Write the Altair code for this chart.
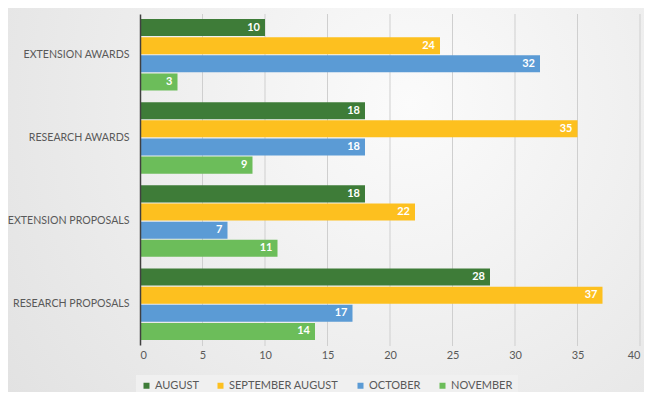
import altair as alt
import pandas as pd

categories = ["EXTENSION AWARDS", "RESEARCH AWARDS", "EXTENSION PROPOSALS", "RESEARCH PROPOSALS"]
series = ["AUGUST", "SEPTEMBER AUGUST", "OCTOBER", "NOVEMBER"]
august = [10, 18, 18, 28]
september_august = [24, 35, 22, 37]
october = [32, 18, 7, 17]
november = [3, 9, 11, 14]
colors = ["#3e7c38", "#fdc01f", "#5b9bd5", "#6cbd5a"]
x_ticks = [0, 5, 10, 15, 20, 25, 30, 35, 40]

rows = []
for s, vals in zip(series, [august, september_august, october, november]):
    for c, v in zip(categories, vals):
        rows.append({"category": c, "series": s, "value": v})
df = pd.DataFrame(rows)
ticks_df = pd.DataFrame({"tick": x_ticks[1:]})

FONT = "Lato"
GRAY = "#595959"

bg = alt.Chart(alt.Data(values=[{}])).mark_rect(
    fill={
        "gradient": "radial",
        "x1": 0.62, "y1": 0.35, "r1": 0.0,
        "x2": 0.62, "y2": 0.35, "r2": 0.75,
        "stops": [
            {"offset": 0, "color": "#fbfbfb"},
            {"offset": 1, "color": "#e2e2e2"},
        ],
    }
).encode(
    x=alt.value(-140), x2=alt.value(520), y=alt.value(-14), y2=alt.value(392)
)

grid = alt.Chart(ticks_df).mark_rule(color="#cfcfcf", strokeWidth=1).encode(
    x=alt.X("tick:Q", scale=alt.Scale(domain=[0, 40], nice=False)),
    y=alt.value(0),
    y2=alt.value(332),
)

y_enc = alt.Y(
    "category:N",
    sort=categories,
    title=None,
    scale=alt.Scale(paddingInner=0.14, paddingOuter=0.06),
    axis=alt.Axis(
        labelFont=FONT, labelFontSize=10.6, labelColor=GRAY, labelPadding=11,
        ticks=False, domainColor="#404040", domainWidth=1.5, grid=False,
        zindex=2, labelLimit=200,
    ),
)
yoff = alt.YOffset("series:N", sort=series, scale=alt.Scale(paddingInner=0.06))

bars = alt.Chart(df).mark_bar().encode(
    x=alt.X(
        "value:Q",
        title=None,
        scale=alt.Scale(domain=[0, 40], nice=False),
        axis=alt.Axis(
            values=x_ticks, labelFont=FONT, labelFontSize=11, labelColor=GRAY,
            domain=False, ticks=False, grid=False, labelPadding=4, zindex=2,
        ),
    ),
    y=y_enc,
    yOffset=yoff,
    color=alt.Color(
        "series:N",
        sort=series,
        scale=alt.Scale(domain=series, range=colors),
        legend=alt.Legend(
            title=None, orient="none", legendX=-4, legendY=361,
            direction="horizontal", columns=4, symbolType="square",
            symbolSize=36, labelFont=FONT, labelFontSize=11, labelColor=GRAY,
            columnPadding=16, symbolStrokeWidth=0, labelOffset=3,
            fillColor="#f0f0f0", padding=5,
        ),
    ),
)

labels = alt.Chart(df).mark_text(
    align="right", baseline="middle", dx=-5, color="white",
    font=FONT, fontSize=11, fontWeight="bold",
).encode(
    x="value:Q",
    y=alt.Y("category:N", sort=categories),
    yOffset=alt.YOffset("series:N", sort=series),
    text="value:Q",
)

chart = alt.layer(bg, grid, bars, labels).properties(
    width=500, height=331,
    padding={"left": 132, "top": 6, "right": 4, "bottom": 47},
    autosize=alt.AutoSizeParams(type="none"),
    background="#e9e9e9",
).configure_view(stroke=None)

chart.save("out.html", embed_options={"renderer": "svg", "actions": False})
